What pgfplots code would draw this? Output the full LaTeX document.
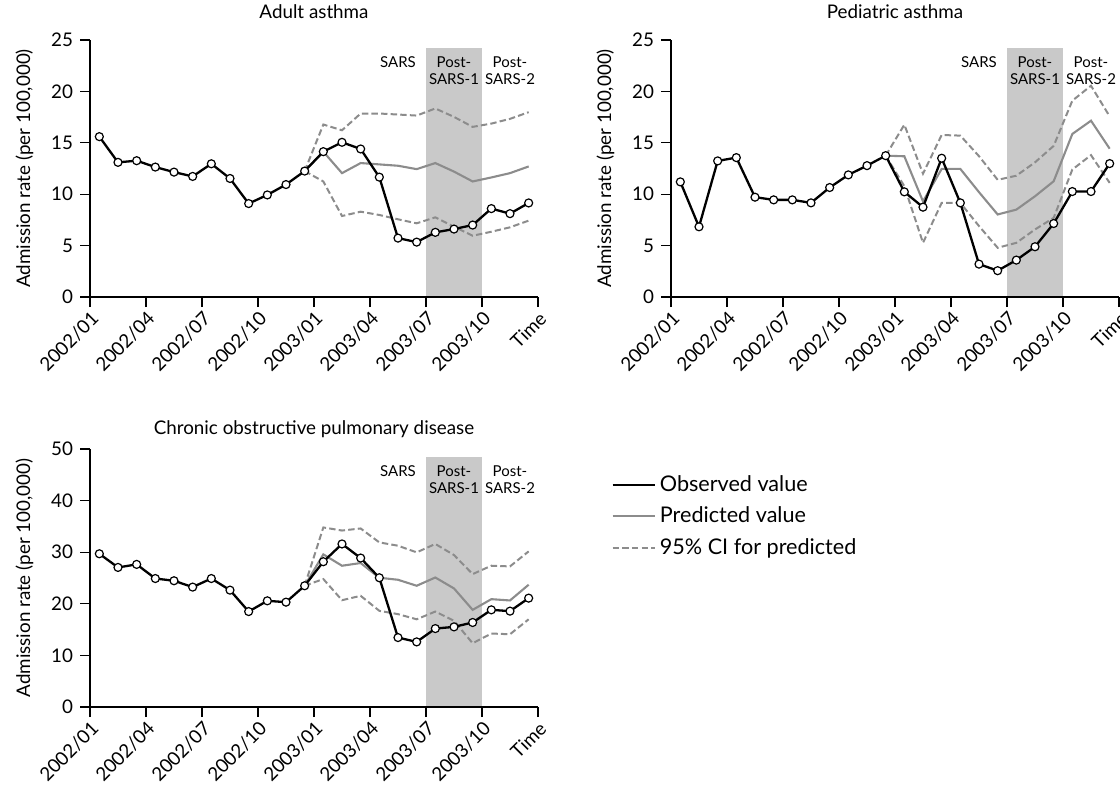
\documentclass[border=0pt]{standalone}
\usepackage{fontspec}
\setmainfont{Lato}
\usepackage{pgfplots}
\pgfplotsset{compat=1.18}
\definecolor{predc}{gray}{0.55}
\definecolor{cic}{gray}{0.55}
\definecolor{shadec}{gray}{0.79}
\newcommand{\fs}{\fontsize{9.4}{11}\selectfont}
\newcommand{\fss}{\fontsize{7.5}{8.6}\selectfont}
\pgfplotsset{
  panel/.style={
    scale only axis, width=224pt,
    axis lines=left, axis line style={-, line width=0.6pt},
    xmin=0, xmax=24, ymin=0,
    xtick={0,3,...,24},
    xticklabels={2002/01,2002/04,2002/07,2002/10,2003/01,2003/04,2003/07,2003/10,Time},
    tick align=outside, major tick length=5pt,
    tick style={line width=0.6pt, black},
    xticklabel style={rotate=45, anchor=north east, inner sep=1pt, font=\fs},
    yticklabel style={font=\fs},
    /pgf/number format/assume math mode=true,
    ylabel={Admission rate (per 100,000)},
    ylabel style={font=\fs, yshift=2pt},
    title style={font=\fs, yshift=1pt},
    axis on top,
    clip=false,
  },
  obs/.style={black, line width=1.15pt, mark=*, mark size=2pt, mark options={fill=white, draw=black, line width=0.6pt}},
  pred/.style={predc, line width=1.05pt, no marks},
  ci/.style={cic, line width=1pt, dash pattern=on 3.2pt off 1.6pt, no marks},
}
\begin{document}
\begin{tikzpicture}
\useasboundingbox (0,0) rectangle (560pt,-397pt);

% ---------------- Adult asthma
\begin{axis}[panel, at={(45pt,-148.5pt)}, anchor=south west, height=128.5pt,
  ymax=25, ytick={0,5,...,25}, title={Adult asthma}]
\fill[shadec] (axis cs:18,0) rectangle (axis cs:21,24.2);
\node[font=\fss, anchor=north, align=center] at (axis cs:16.5,24.1) {SARS};
\node[font=\fss, anchor=north, align=center] at (axis cs:19.5,24.1) {Post-\\SARS-1};
\node[font=\fss, anchor=north, align=center] at (axis cs:22.5,24.1) {Post-\\SARS-2};
\addplot[ci] coordinates {(11.5,12.25)(12.5,16.78)(13.5,16.22)(14.5,17.85)(15.5,17.85)(16.5,17.75)(17.5,17.65)(18.5,18.34)(19.5,17.52)(20.5,16.55)(21.5,16.87)(22.5,17.33)(23.5,17.98)};
\addplot[ci] coordinates {(11.5,12.25)(12.5,11.24)(13.5,7.88)(14.5,8.3)(15.5,7.98)(16.5,7.56)(17.5,7.17)(18.5,7.75)(19.5,6.84)(20.5,5.96)(21.5,6.35)(22.5,6.78)(23.5,7.43)};
\addplot[pred] coordinates {(11.5,12.25)(12.5,14.14)(13.5,12.05)(14.5,13.03)(15.5,12.9)(16.5,12.77)(17.5,12.44)(18.5,13.03)(19.5,12.2)(20.5,11.24)(21.5,11.63)(22.5,12.05)(23.5,12.7)};
\addplot[obs] coordinates {(0.5,15.6)(1.5,13.1)(2.5,13.26)(3.5,12.64)(4.5,12.15)(5.5,11.73)(6.5,12.96)(7.5,11.53)(8.5,9.09)(9.5,9.93)(10.5,10.94)(11.5,12.25)(12.5,14.14)(13.5,15.05)(14.5,14.4)(15.5,11.66)(16.5,5.73)(17.5,5.34)(18.5,6.29)(19.5,6.61)(20.5,7.0)(21.5,8.6)(22.5,8.11)(23.5,9.15)};
\end{axis}

% ---------------- Pediatric asthma
\begin{axis}[panel, at={(335.5pt,-148.5pt)}, anchor=south west, height=128.5pt,
  ymax=25, ytick={0,5,...,25}, title={Pediatric asthma}]
\fill[shadec] (axis cs:18,0) rectangle (axis cs:21,24.2);
\node[font=\fss, anchor=north, align=center] at (axis cs:16.5,24.1) {SARS};
\node[font=\fss, anchor=north, align=center] at (axis cs:19.5,24.1) {Post-\\SARS-1};
\node[font=\fss, anchor=north, align=center] at (axis cs:22.5,24.1) {Post-\\SARS-2};
\addplot[ci] coordinates {(11.5,13.75)(12.5,16.76)(13.5,12.0)(14.5,15.76)(15.5,15.7)(16.5,13.7)(17.5,11.4)(18.5,11.8)(19.5,13.1)(20.5,14.7)(21.5,19.1)(22.5,20.55)(23.5,17.57)};
\addplot[ci] coordinates {(11.5,13.75)(12.5,10.78)(13.5,5.27)(14.5,9.16)(15.5,9.16)(16.5,6.9)(17.5,4.79)(18.5,5.27)(19.5,6.57)(20.5,7.7)(21.5,12.4)(22.5,13.8)(23.5,11.1)};
\addplot[pred] coordinates {(11.5,13.75)(12.5,13.69)(13.5,9.3)(14.5,12.46)(15.5,12.46)(16.5,10.2)(17.5,8.03)(18.5,8.5)(19.5,9.8)(20.5,11.26)(21.5,15.86)(22.5,17.15)(23.5,14.43)};
\addplot[obs] coordinates {(0.5,11.2)(1.5,6.83)(2.5,13.24)(3.5,13.56)(4.5,9.71)(5.5,9.45)(6.5,9.45)(7.5,9.16)(8.5,10.65)(9.5,11.88)(10.5,12.78)(11.5,13.75)(12.5,10.23)(13.5,8.74)(14.5,13.5)(15.5,9.16)(16.5,3.2)(17.5,2.56)(18.5,3.59)(19.5,4.89)(20.5,7.15)(21.5,10.26)(22.5,10.26)(23.5,12.98)};
\end{axis}

% ---------------- COPD
\begin{axis}[panel, at={(45pt,-353.5pt)}, anchor=south west, height=129pt,
  ymax=50, ytick={0,10,...,50}, title={Chronic obstructive pulmonary disease},
  title style={yshift=-5pt},
  reverse legend,
  legend style={at={(1.15,0.93)}, anchor=north west, draw=none, fill=none,
    font=\fontsize{10.8}{12}\selectfont, row sep=2.2pt, legend cell align=left},
  legend image code/.code={\draw[#1] (0pt,0pt) -- (21pt,0pt);}]
\fill[shadec] (axis cs:18,0) rectangle (axis cs:21,48.4);
\node[font=\fss, anchor=north, align=center] at (axis cs:16.5,48.2) {SARS};
\node[font=\fss, anchor=north, align=center] at (axis cs:19.5,48.2) {Post-\\SARS-1};
\node[font=\fss, anchor=north, align=center] at (axis cs:22.5,48.2) {Post-\\SARS-2};
\addplot[ci] coordinates {(11.5,23.5)(12.5,34.8)(13.5,34.2)(14.5,34.6)(15.5,31.9)(16.5,31.26)(17.5,29.97)(18.5,31.6)(19.5,29.45)(20.5,25.76)(21.5,27.38)(22.5,27.25)(23.5,30.16)};
\addlegendentry{95\% CI for predicted}
\addplot[ci, forget plot] coordinates {(11.5,23.5)(12.5,24.8)(13.5,20.7)(14.5,21.55)(15.5,18.64)(16.5,18.0)(17.5,17.0)(18.5,18.5)(19.5,16.7)(20.5,12.36)(21.5,14.24)(22.5,14.1)(23.5,17.0)};
\addplot[pred] coordinates {(11.5,23.5)(12.5,29.58)(13.5,27.38)(14.5,27.9)(15.5,25.05)(16.5,24.66)(17.5,23.5)(18.5,25.1)(19.5,22.98)(20.5,18.83)(21.5,20.9)(22.5,20.65)(23.5,23.7)};
\addlegendentry{Predicted value}
\addplot[obs] coordinates {(0.5,29.7)(1.5,27.05)(2.5,27.64)(3.5,24.9)(4.5,24.47)(5.5,23.24)(6.5,24.9)(7.5,22.65)(8.5,18.5)(9.5,20.58)(10.5,20.32)(11.5,23.5)(12.5,28.16)(13.5,31.6)(14.5,28.87)(15.5,25.05)(16.5,13.46)(17.5,12.62)(18.5,15.2)(19.5,15.53)(20.5,16.38)(21.5,18.83)(22.5,18.58)(23.5,21.1)};
\addlegendentry{Observed value}
\end{axis}
\end{tikzpicture}
\end{document}
